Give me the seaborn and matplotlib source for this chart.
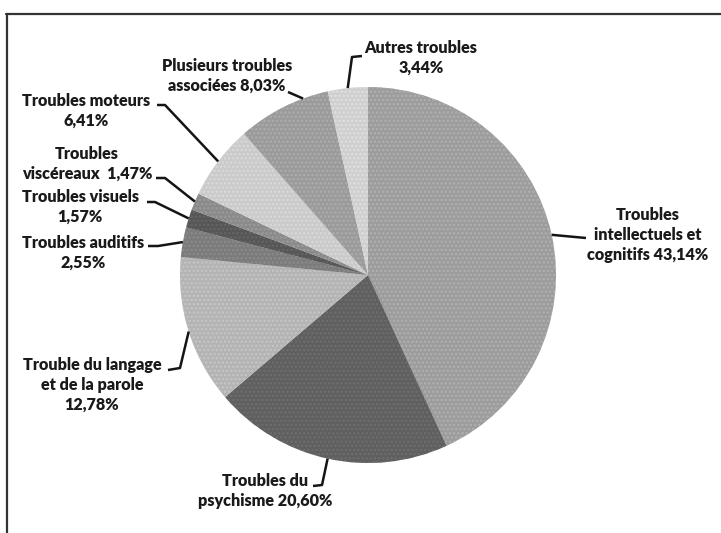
import matplotlib
matplotlib.use("Agg")
import matplotlib.pyplot as plt
import seaborn as sns
import numpy as np

# ---- data ----
categories = [
    "Troubles\nintellectuels et\ncognitifs 43,14%",
    "Troubles du\npsychisme 20,60%",
    "Trouble du langage\net de la parole\n12,78%",
    "Troubles auditifs\n2,55%",
    "Troubles visuels\n1,57%",
    "Troubles\nviscéreaux  1,47%",
    "Troubles moteurs\n6,41%",
    "Plusieurs troubles\nassociées 8,03%",
    "Autres troubles\n3,44%",
]
values = [43.14, 20.60, 12.78, 2.55, 1.57, 1.47, 6.41, 8.03, 3.44]
colors = ["#9c9c9c", "#5f5f5f", "#b3b3b3", "#7b7b7b", "#565656",
          "#8a8a8a", "#cacaca", "#9a9a9a", "#cfcfcf"]
hatch_colors = ["#b0b0b0", "#6e6e6e", "#c6c6c6", "#8c8c8c", "#666666",
                "#9c9c9c", "#dadada", "#adadad", "#e0e0e0"]

# ---- layout (image pixel coords, y downward) ----
W, H = 721, 533
CX, CY, R = 368, 275, 188
label_pos = [(648, 235), (265, 491), (92, 385), (83, 253), (80, 207),
             (87, 164), (86, 111), (227, 76), (421, 58)]
# leader path points between label and pie edge (edge point appended)
leader_mid = [
    [(586, 238)],
    [(313, 486), (322, 485)],
    [(168, 370), (180, 368)],
    [(148, 246), (158, 246)],
    [(147, 202), (155, 202)],
    [(156, 178), (165, 178)],
    [(157, 105), (165, 105)],
    [(288, 92)],
    [(362, 56), (352, 57)],
]
anchor_override = {7: 110.2}

sns.set_theme(style="white")
plt.rcParams["font.family"] = ["Lato", "DejaVu Sans"]
plt.rcParams["hatch.linewidth"] = 1.2

fig = plt.figure(figsize=(W / 100, H / 100), dpi=100)
ax = fig.add_axes([0, 0, 1, 1])

wedges, _ = ax.pie(values, colors=colors, startangle=90, counterclock=False,
                   center=(CX, H - CY), radius=R, frame=True,
                   wedgeprops=dict(linewidth=0))
ax.set_xlim(0, W)
ax.set_ylim(0, H)
ax.axis("off")
for w, hc in zip(wedges, hatch_colors):
    w.set_hatch("....")
    w.set_edgecolor(hc)
    w.set_linewidth(0)

total = sum(values)
cum = 0.0
for i, (lab, v) in enumerate(zip(categories, values)):
    mid = cum + v / 2
    cum += v
    ang = 90 - 360 * mid / total
    if i in anchor_override:
        ang = anchor_override[i]
    ex = CX + R * np.cos(np.radians(ang))
    ey = CY - R * np.sin(np.radians(ang))
    pts = leader_mid[i] + [(ex, ey)]
    xs = [p[0] for p in pts]
    ys = [H - p[1] for p in pts]
    ax.plot(xs, ys, color="#151515", lw=1.8, solid_capstyle="butt", zorder=5)
    lx, ly = label_pos[i]
    ax.text(lx, H - ly, lab, ha="center", va="center", fontsize=11.6,
            fontweight="heavy", color="#1a1a1a", linespacing=1.3, zorder=6)

# frame (top and left edges only visible)
ax.plot([6, W], [H - 14, H - 14], color="#333333", lw=1.6, clip_on=False)
ax.plot([7, 7], [H - 14, 0], color="#333333", lw=1.6, clip_on=False)

fig.savefig("out.png", dpi=100)
